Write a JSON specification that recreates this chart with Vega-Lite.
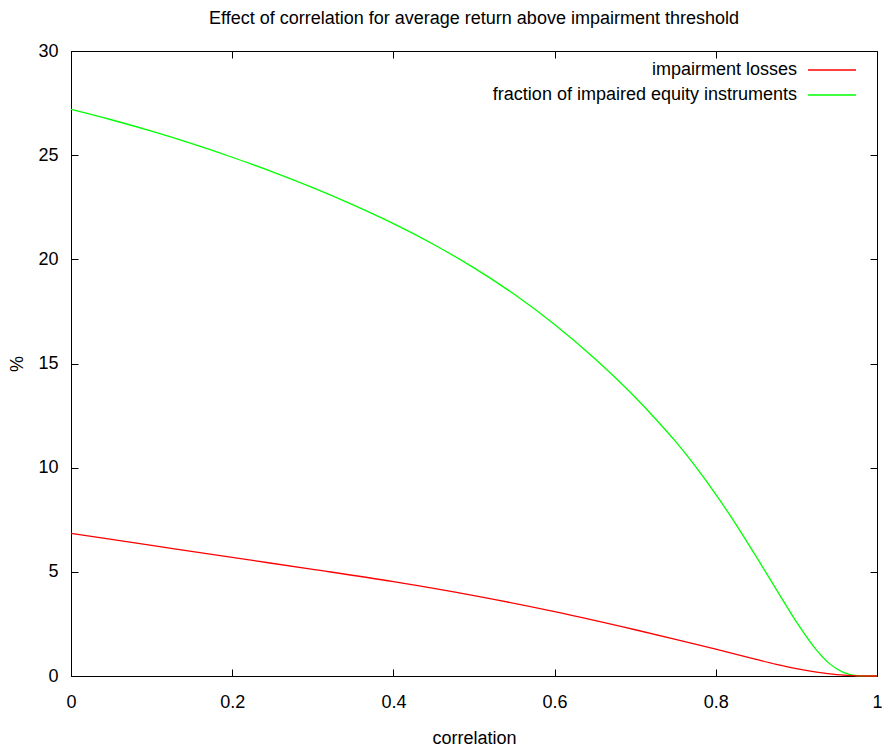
{
  "$schema": "https://vega.github.io/schema/vega-lite/v6.json",
  "autosize": "none",
  "width": 806,
  "height": 625,
  "padding": {"left": 71, "top": 51, "right": 5, "bottom": 75},
  "background": "white",
  "config": {
    "font": "Liberation Sans",
    "view": {"stroke": "black", "strokeWidth": 1},
    "axis": {"grid": false, "domain": false, "tickColor": "black", "tickSize": -7, "labelFont": "Liberation Sans", "labelFontSize": 18, "labelColor": "black", "labelFlush": false, "titleFont": "Liberation Sans", "titleFontSize": 18, "titleFontWeight": "normal", "titleColor": "black"}
  },
  "title": {"text": "Effect of correlation for average return above impairment threshold", "fontSize": 18, "fontWeight": "normal", "font": "Liberation Sans", "color": "black", "offset": 14, "anchor": "middle"},
  "data": {"values": [
    {"correlation": 0, "value": 27.2, "series": "fraction of impaired equity instruments"},
    {"correlation": 0.05, "value": 26.7, "series": "fraction of impaired equity instruments"},
    {"correlation": 0.1, "value": 26.15, "series": "fraction of impaired equity instruments"},
    {"correlation": 0.15, "value": 25.55, "series": "fraction of impaired equity instruments"},
    {"correlation": 0.2, "value": 24.9, "series": "fraction of impaired equity instruments"},
    {"correlation": 0.25, "value": 24.2, "series": "fraction of impaired equity instruments"},
    {"correlation": 0.3, "value": 23.44, "series": "fraction of impaired equity instruments"},
    {"correlation": 0.35, "value": 22.61, "series": "fraction of impaired equity instruments"},
    {"correlation": 0.4, "value": 21.71, "series": "fraction of impaired equity instruments"},
    {"correlation": 0.45, "value": 20.71, "series": "fraction of impaired equity instruments"},
    {"correlation": 0.5, "value": 19.59, "series": "fraction of impaired equity instruments"},
    {"correlation": 0.55, "value": 18.32, "series": "fraction of impaired equity instruments"},
    {"correlation": 0.6, "value": 16.87, "series": "fraction of impaired equity instruments"},
    {"correlation": 0.65, "value": 15.23, "series": "fraction of impaired equity instruments"},
    {"correlation": 0.7, "value": 13.38, "series": "fraction of impaired equity instruments"},
    {"correlation": 0.725, "value": 12.35, "series": "fraction of impaired equity instruments"},
    {"correlation": 0.75, "value": 11.26, "series": "fraction of impaired equity instruments"},
    {"correlation": 0.775, "value": 10.05, "series": "fraction of impaired equity instruments"},
    {"correlation": 0.8, "value": 8.72, "series": "fraction of impaired equity instruments"},
    {"correlation": 0.825, "value": 7.28, "series": "fraction of impaired equity instruments"},
    {"correlation": 0.85, "value": 5.74, "series": "fraction of impaired equity instruments"},
    {"correlation": 0.875, "value": 4.16, "series": "fraction of impaired equity instruments"},
    {"correlation": 0.9, "value": 2.6, "series": "fraction of impaired equity instruments"},
    {"correlation": 0.925, "value": 1.24, "series": "fraction of impaired equity instruments"},
    {"correlation": 0.94, "value": 0.63, "series": "fraction of impaired equity instruments"},
    {"correlation": 0.95, "value": 0.35, "series": "fraction of impaired equity instruments"},
    {"correlation": 0.96, "value": 0.15, "series": "fraction of impaired equity instruments"},
    {"correlation": 0.97, "value": 0.04, "series": "fraction of impaired equity instruments"},
    {"correlation": 0.98, "value": 0, "series": "fraction of impaired equity instruments"},
    {"correlation": 1, "value": 0, "series": "fraction of impaired equity instruments"},
    {"correlation": 0, "value": 6.85, "series": "impairment losses"},
    {"correlation": 0.1, "value": 6.27, "series": "impairment losses"},
    {"correlation": 0.2, "value": 5.69, "series": "impairment losses"},
    {"correlation": 0.3, "value": 5.12, "series": "impairment losses"},
    {"correlation": 0.4, "value": 4.53, "series": "impairment losses"},
    {"correlation": 0.5, "value": 3.86, "series": "impairment losses"},
    {"correlation": 0.6, "value": 3.09, "series": "impairment losses"},
    {"correlation": 0.7, "value": 2.22, "series": "impairment losses"},
    {"correlation": 0.75, "value": 1.76, "series": "impairment losses"},
    {"correlation": 0.8, "value": 1.29, "series": "impairment losses"},
    {"correlation": 0.85, "value": 0.8, "series": "impairment losses"},
    {"correlation": 0.875, "value": 0.56, "series": "impairment losses"},
    {"correlation": 0.9, "value": 0.35, "series": "impairment losses"},
    {"correlation": 0.925, "value": 0.19, "series": "impairment losses"},
    {"correlation": 0.95, "value": 0.07, "series": "impairment losses"},
    {"correlation": 0.975, "value": 0.01, "series": "impairment losses"},
    {"correlation": 1, "value": 0, "series": "impairment losses"}
  ]},
  "layer": [
    {
      "mark": {"type": "line", "strokeWidth": 1.3, "interpolate": "monotone"},
      "encoding": {
        "x": {"field": "correlation", "type": "quantitative", "scale": {"domain": [0, 1], "nice": false},
              "axis": {"orient": "bottom", "values": [0, 0.2, 0.4, 0.6, 0.8, 1], "format": "~g", "labelPadding": 24, "title": "correlation", "titlePadding": 18}},
        "y": {"field": "value", "type": "quantitative", "scale": {"domain": [0, 30], "nice": false},
              "axis": {"orient": "left", "values": [0, 5, 10, 15, 20, 25, 30], "labelPadding": 20, "title": "%", "titlePadding": 11}},
        "color": {"field": "series", "type": "nominal",
                  "scale": {"domain": ["impairment losses", "fraction of impaired equity instruments"], "range": ["#ff0000", "#00ff00"]},
                  "legend": {"title": null, "orient": "none", "legendX": 752, "legendY": 10, "symbolType": "M-4,0H4", "symbolSize": 144, "symbolStrokeWidth": 1.3, "labelAlign": "right", "labelOffset": -44, "labelFontSize": 18, "labelColor": "black", "labelFont": "Liberation Sans", "rowPadding": 7, "labelLimit": 500}}
      }
    },
    {
      "mark": {"type": "point", "opacity": 0},
      "encoding": {
        "x": {"field": "correlation", "type": "quantitative", "axis": {"orient": "top", "values": [0, 0.2, 0.4, 0.6, 0.8, 1], "labels": false, "title": null}},
        "y": {"field": "value", "type": "quantitative", "axis": {"orient": "right", "values": [0, 5, 10, 15, 20, 25, 30], "labels": false, "title": null}}
      }
    }
  ],
  "resolve": {"axis": {"x": "independent", "y": "independent"}}
}
